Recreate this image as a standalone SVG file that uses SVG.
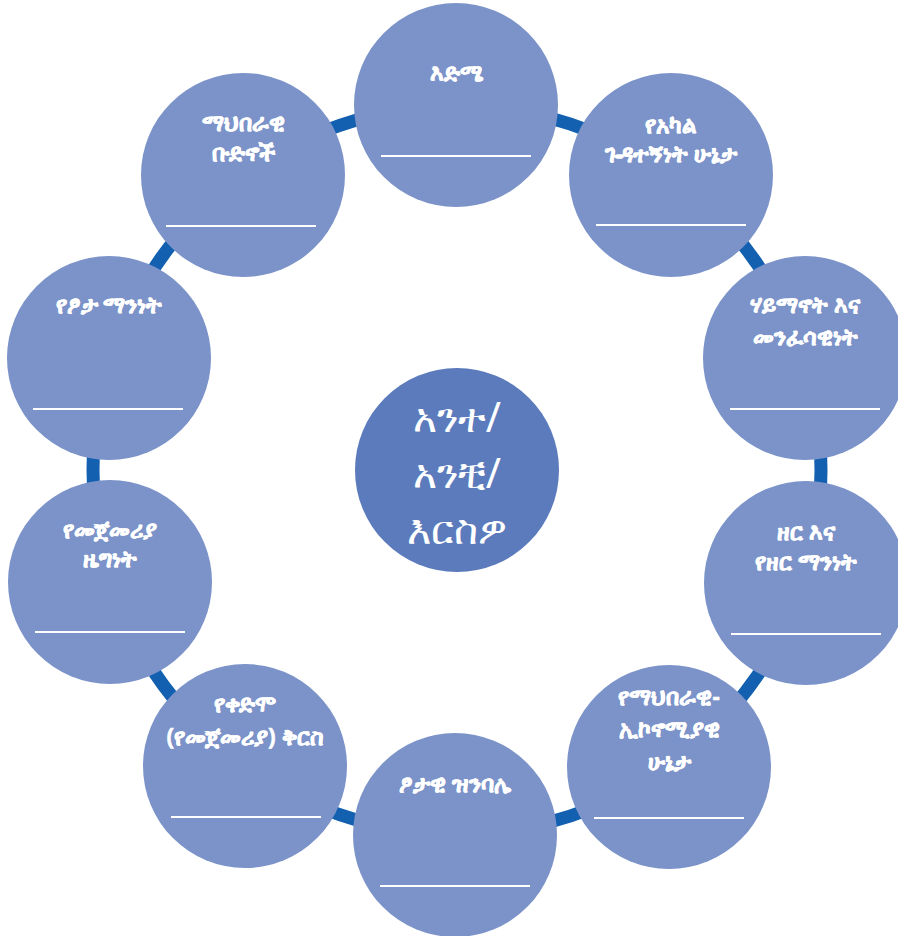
<svg xmlns="http://www.w3.org/2000/svg" width="898" height="936" viewBox="0 0 898 936">
<style>
.n{fill:#7b93c9}
.c{fill:#5b7bbd}
.ln{stroke:#ffffff;stroke-width:2}
.t{fill:#ffffff;font-family:"Noto Sans","DejaVu Sans","Liberation Sans",sans-serif;font-weight:bold;font-size:22.5px;text-anchor:middle;stroke:#ffffff;stroke-width:0.5}
.tc{fill:#ffffff;font-family:"Noto Sans","DejaVu Sans","Liberation Sans",sans-serif;font-size:41px;text-anchor:middle}
</style>
<rect width="898" height="936" fill="#ffffff"/>
<g id="connectors">
<circle cx="457" cy="470" r="364" fill="none" stroke="#1360b0" stroke-width="13"/>
</g>
<g id="node-center"><circle class="c" cx="457" cy="470" r="102"/>
<text class="tc" x="457" y="432">አንተ/</text><text class="tc" x="457" y="488">አንቺ/</text><text class="tc" x="457" y="544">እርስዎ</text></g>
<g id="node-age"><circle class="n" cx="456" cy="105" r="102"/>
<text class="t" x="456" y="81">እድሜ</text><line class="ln" x1="381" y1="156" x2="531" y2="156"/></g>
<g id="node-disability"><circle class="n" cx="671" cy="175" r="102"/>
<text class="t" x="671" y="133">የአካል</text><text class="t" x="671" y="162">ጉዳተኝነት ሁኔታ</text><line class="ln" x1="596" y1="225" x2="746" y2="225"/></g>
<g id="node-religion"><circle class="n" cx="805" cy="358" r="102"/>
<text class="t" x="805" y="313">ሃይማኖት እና</text><text class="t" x="805" y="345">መንፈሳዊነት</text><line class="ln" x1="730" y1="409" x2="880" y2="409"/></g>
<g id="node-race"><circle class="n" cx="806" cy="583" r="102"/>
<text class="t" x="806" y="540">ዘር እና</text><text class="t" x="806" y="570">የዘር ማንነት</text><line class="ln" x1="731" y1="634" x2="881" y2="634"/></g>
<g id="node-socioeconomic"><circle class="n" cx="669" cy="767" r="102"/>
<text class="t" x="669" y="705">የማህበራዊ-</text><text class="t" x="669" y="737">ኢኮኖሚያዊ</text><text class="t" x="669" y="770">ሁኔታ</text><line class="ln" x1="594" y1="818" x2="744" y2="818"/></g>
<g id="node-orientation"><circle class="n" cx="455" cy="835" r="102"/>
<text class="t" x="455" y="792">ፆታዊ ዝንባሌ</text><line class="ln" x1="380" y1="886" x2="530" y2="886"/></g>
<g id="node-heritage"><circle class="n" cx="245" cy="766" r="102"/>
<text class="t" x="245" y="712">የቀድሞ</text><text class="t" x="245" y="745">(የመጀመሪያ) ቅርስ</text><line class="ln" x1="171" y1="817" x2="321" y2="817"/></g>
<g id="node-nationality"><circle class="n" cx="110" cy="582" r="102"/>
<text class="t" x="110" y="538">የመጀመሪያ</text><text class="t" x="110" y="567">ዜግነት</text><line class="ln" x1="35" y1="632" x2="185" y2="632"/></g>
<g id="node-gender"><circle class="n" cx="109" cy="358" r="102"/>
<text class="t" x="109" y="313">የፆታ ማንነት</text><line class="ln" x1="33" y1="409" x2="183" y2="409"/></g>
<g id="node-social"><circle class="n" cx="243" cy="175" r="102"/>
<text class="t" x="243" y="131">ማህበራዊ</text><text class="t" x="243" y="161">ቡድኖች</text><line class="ln" x1="166" y1="226" x2="316" y2="226"/></g>
</svg>
